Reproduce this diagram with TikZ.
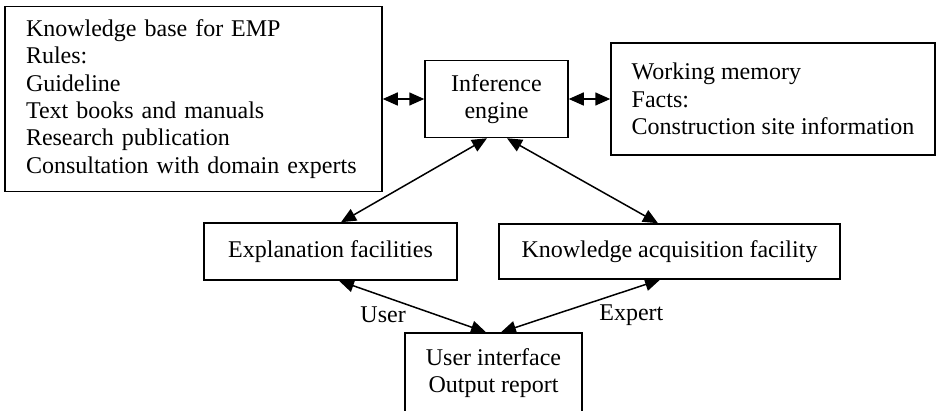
\documentclass[tikz,border=0pt]{standalone}
\usepackage{fontspec}
\setmainfont{Liberation Serif}
\usetikzlibrary{arrows.meta}
\tikzset{
  box/.style={draw,line width=1.5pt,inner sep=0pt,font=\fontsize{24}{27.3}\selectfont},
  link/.style={line width=1.5pt,{Triangle[length=15pt,width=13pt]}-{Triangle[length=15pt,width=13pt]}},
  lbl/.style={font=\fontsize{24}{27}\selectfont,inner sep=0pt}
}
\begin{document}
\begin{tikzpicture}[x=1pt,y=-1pt]
  \useasboundingbox (0,0) rectangle (938,411);
  \clip (0,0) rectangle (938,411);
  % boxes
  \node[box,minimum width=377pt,minimum height=185pt,text width=335pt,align=left] (kb) at (193.5,99)
    {Knowledge base for EMP\\Rules:\\Guideline\\Text books and manuals\\Research publication\\Consultation with domain experts};
  \node[box,minimum width=143pt,minimum height=77pt,align=center] (ie) at (496.5,99) {Inference\\engine};
  \node[box,minimum width=324pt,minimum height=112pt,align=left] (wm) at (773,99)
    {Working memory\\Facts:\\Construction site information};
  \node[box,minimum width=253pt,minimum height=57pt] (ef) at (330.5,251.5) {Explanation facilities};
  \node[box,minimum width=341pt,minimum height=55pt] (ka) at (669.5,251.5) {Knowledge acquisition facility};
  \node[box,minimum width=177pt,minimum height=80pt,align=center] (ui) at (493.5,373) {User interface\\Output report};
  % links
  \draw[link] (kb) -- (ie);
  \draw[link] (ie) -- (wm);
  \draw[link] ([xshift=-9.5pt]ie.south) -- ([xshift=10.5pt]ef.north);
  \draw[link] ([xshift=10.5pt]ie.south) -- ([xshift=-11.5pt]ka.north);
  \draw[link] ([xshift=8.5pt]ef.south) -- ([xshift=-7.5pt]ui.north)
    node[lbl,pos=0.3,yshift=-19pt] (user) {User};
  \draw[link] ([xshift=-9.5pt]ka.south) -- ([xshift=7.5pt]ui.north)
    node[lbl,pos=0.18,yshift=-26pt] (expert) {Expert};
\end{tikzpicture}
\end{document}
